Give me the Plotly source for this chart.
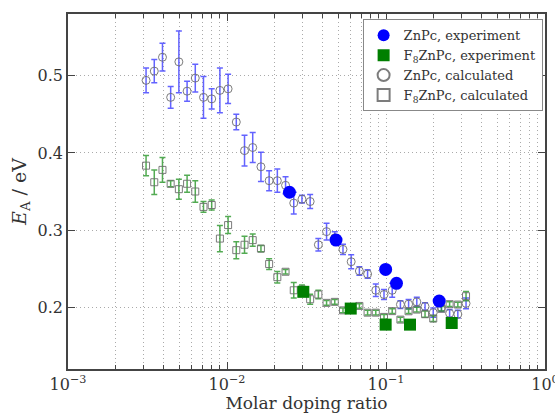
import plotly.graph_objects as go

# ---- data ----
x_calc = [0.003097, 0.003488, 0.003928, 0.004423, 0.004981, 0.005610, 0.006317, 0.007114,
          0.008012, 0.009023, 0.01016, 0.01144, 0.01289, 0.01451, 0.01635, 0.01841,
          0.02073, 0.02335, 0.02629, 0.02961, 0.03334, 0.03755, 0.04229, 0.04762,
          0.05363, 0.06040, 0.06801, 0.07660, 0.08626, 0.09714, 0.1094, 0.1232,
          0.1387, 0.1562, 0.1760, 0.1982, 0.2232, 0.2513, 0.2830, 0.3187]

znpc_calc = [0.494, 0.506, 0.524, 0.472, 0.518, 0.480, 0.497, 0.472,
             0.470, 0.481, 0.483, 0.440, 0.403, 0.407, 0.382, 0.364,
             0.364, 0.358, 0.335, 0.340, 0.337, 0.281, 0.298, 0.290,
             0.275, 0.259, 0.247, 0.243, 0.222, 0.2165, 0.222, 0.2035,
             0.204, 0.207, 0.201, 0.193, 0.1996, 0.192, 0.191, 0.205]
znpc_err = [0.016, 0.015, 0.018, 0.014, 0.040, 0.013, 0.018, 0.027,
            0.013, 0.029, 0.019, 0.010, 0.020, 0.0195, 0.019, 0.013,
            0.015, 0.011, 0.014, 0.005, 0.009, 0.008, 0.011, 0.008,
            0.0065, 0.009, 0.0055, 0.0055, 0.008, 0.0065, 0.009, 0.005,
            0.006, 0.006, 0.005, 0.006, 0.005, 0.005, 0.005, 0.007]

f8_calc = [0.3835, 0.362, 0.378, 0.360, 0.353, 0.360, 0.350, 0.330,
           0.3325, 0.289, 0.3065, 0.274, 0.281, 0.287, 0.276, 0.256,
           0.239, 0.246, 0.222, 0.223, 0.2104, 0.2165, 0.2057, 0.207,
           0.196, 0.199, 0.2017, 0.193, 0.193, 0.1875, 0.195, 0.184,
           0.1948, 0.197, 0.191, 0.1854, 0.198, 0.204, 0.2035, 0.2143]
f8_err = [0.013, 0.016, 0.016, 0.004, 0.013, 0.011, 0.014, 0.007,
          0.0065, 0.017, 0.011, 0.011, 0.011, 0.008, 0.004, 0.007,
          0.0075, 0.003, 0.010, 0.006, 0.0065, 0.0055, 0.003, 0.003,
          0.003, 0.003, 0.003, 0.003, 0.003, 0.003, 0.003, 0.003,
          0.003, 0.003, 0.004, 0.004, 0.003, 0.003, 0.003, 0.006]

x_znpc_exp = [0.0247, 0.0485, 0.0995, 0.1164, 0.216]
znpc_exp = [0.349, 0.287, 0.249, 0.231, 0.208]

x_f8_exp = [0.0302, 0.0600, 0.0995, 0.1416, 0.259]
f8_exp = [0.220, 0.1983, 0.1775, 0.1775, 0.1796]

x_tickvals = [0.001, 0.01, 0.1, 1]
x_ticktext = ["10<sup>−3</sup>", "10<sup>−2</sup>", "10<sup>−1</sup>", "10<sup>0</sup>"]
x_minor = [m * d for d in (0.001, 0.01, 0.1) for m in range(2, 10)]
y_tickvals = [0.2, 0.3, 0.4, 0.5]
y_ticktext = ["0.2", "0.3", "0.4", "0.5"]

FONT = "DejaVu Serif"
GRAY = "rgba(110,110,110,0.9)"
DOT = "1px,3px"

fig = go.Figure()

fig.add_trace(go.Scatter(
    x=x_calc, y=znpc_calc, mode="markers", name="ZnPc, calculated", legendrank=3,
    error_y=dict(type="data", array=znpc_err, color="rgba(60,60,255,0.8)", thickness=1.5, width=3),
    marker=dict(symbol="circle-open", size=8, color=GRAY, line=dict(width=1))))
fig.add_trace(go.Scatter(
    x=x_calc, y=f8_calc, mode="markers", name="F<sub>8</sub>ZnPc, calculated", legendrank=4,
    error_y=dict(type="data", array=f8_err, color="rgba(40,150,40,0.8)", thickness=1.5, width=3),
    marker=dict(symbol="square-open", size=7, color=GRAY, line=dict(width=1))))
fig.add_trace(go.Scatter(
    x=x_znpc_exp, y=znpc_exp, mode="markers", name="ZnPc, experiment", legendrank=1,
    marker=dict(symbol="circle", size=13, color="#0000ff", line=dict(width=0))))
fig.add_trace(go.Scatter(
    x=x_f8_exp, y=f8_exp, mode="markers", name="F<sub>8</sub>ZnPc, experiment", legendrank=2,
    marker=dict(symbol="square", size=12, color="#007f00", line=dict(width=0))))

fig.update_layout(
    width=555, height=413,
    margin=dict(l=68, r=10, t=14, b=44, autoexpand=False),
    paper_bgcolor="white", plot_bgcolor="white",
    font=dict(family=FONT, size=16, color="#333333"),
    showlegend=True,
    legend=dict(x=0.995, y=0.985, xanchor="right", yanchor="top",
                bgcolor="white", bordercolor="#888888", borderwidth=1,
                font=dict(family=FONT, size=13, color="#333333"),
                tracegroupgap=0, itemsizing="constant"),
)

fig.update_xaxes(
    type="log", range=[-3, 0], automargin=False,
    tickmode="array", tickvals=x_tickvals, ticktext=x_ticktext,
    ticklabeloverflow="allow",
    ticks="inside", ticklen=7, tickwidth=1, tickcolor="#444444",
    showline=True, linecolor="#444444", linewidth=1.5, mirror="ticks",
    showgrid=True, gridcolor="#aaaaaa", gridwidth=1, griddash=DOT,
    zeroline=False,
    minor=dict(tickmode="array", tickvals=x_minor, ticks="inside", ticklen=4,
               tickcolor="#444444", showgrid=True, gridcolor="#aaaaaa", griddash=DOT),
    title=dict(text="Molar doping ratio", font=dict(family=FONT, size=17), standoff=4),
    tickfont=dict(family=FONT, size=16),
)
fig.update_yaxes(
    range=[0.12, 0.58], automargin=False,
    tickmode="array", tickvals=y_tickvals, ticktext=y_ticktext,
    ticks="inside", ticklen=7, tickwidth=1, tickcolor="#444444",
    showline=True, linecolor="#444444", linewidth=1.5, mirror="ticks",
    showgrid=True, gridcolor="#aaaaaa", gridwidth=1, griddash=DOT,
    zeroline=False,
    title=dict(text="<i>E</i><sub>A</sub> / eV", font=dict(family=FONT, size=19), standoff=6),
    tickfont=dict(family=FONT, size=16),
)

fig.write_html("out.html")
